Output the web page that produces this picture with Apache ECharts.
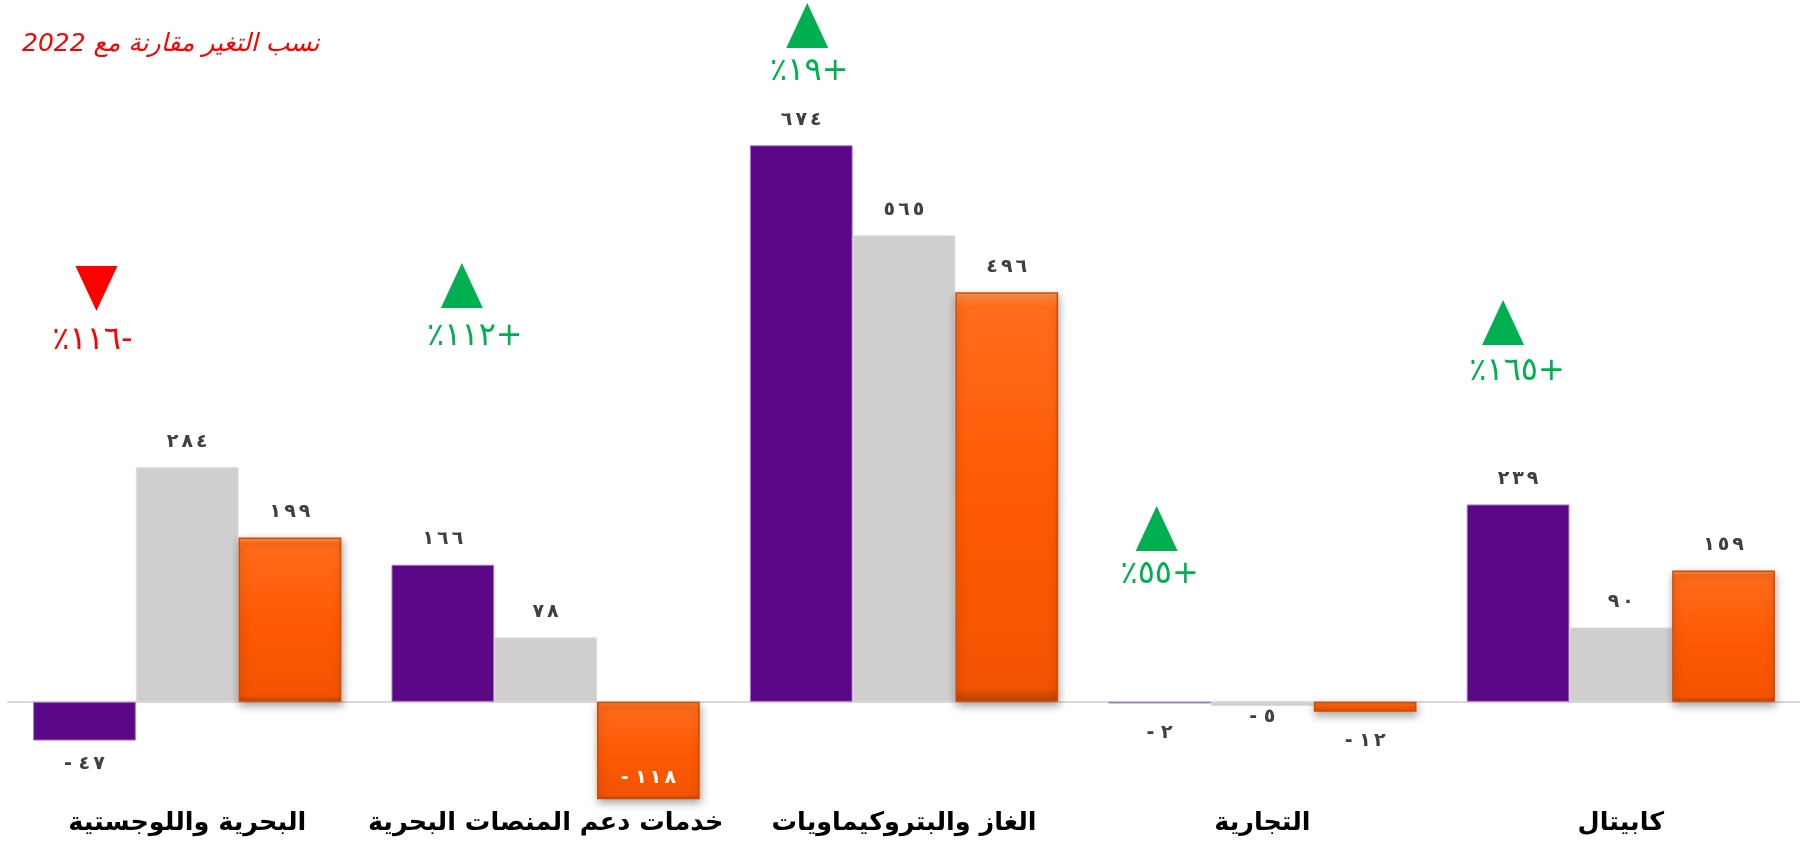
<!DOCTYPE html>
<html>
<head>
<meta charset="utf-8">
<script src="https://cdn.jsdelivr.net/npm/echarts@6/dist/echarts.min.js"></script>
<style>
html,body{margin:0;padding:0;background:#fff;}
#chart{width:1800px;height:842px;}
</style>
</head>
<body>
<div id="chart"></div>
<script>
// ---- data ----
const categories = ['البحرية واللوجستية', 'خدمات دعم المنصات البحرية', 'الغاز والبتروكيماويات', 'التجارية', 'كابيتال'];
const seriesNames = ['2023', '2022', '2021'];
const valuesA = [-47, 166, 674, -2, 239];   // purple
const valuesB = [284, 78, 565, -5, 90];     // gray
const valuesC = [199, -118, 496, -12, 159]; // orange
const changePct = [-116, 112, 19, 55, 165];
const titleText = '2022 نسب التغير مقارنة مع';

// ---- helpers ----
const AR = '٠١٢٣٤٥٦٧٨٩';
const toAr = n => String(n).replace(/\d/g, d => AR[d]);
// rich tokens are laid out left-to-right by ECharts, so visual order is explicit
const spaced = s => s.split('').map(ch => '{v|' + ch + '}').join('{g| }');
const fmtVal = v => v < 0 ? '{v|-}{v| }' + spaced(toAr(-v)) : spaced(toAr(v));
const fmtPct = p => '{p|٪}{p|' + toAr(Math.abs(p)) + '}{p|' + (p < 0 ? '-' : '+') + '}';

const FONT = '"DejaVu Sans", sans-serif';
const valRich = {
  v: { fontSize: 19, fontWeight: 'bold', color: '#404040', fontFamily: FONT },
  g: { fontSize: 19, width: 3 }
};
const valRichWhite = {
  v: { fontSize: 19, fontWeight: 'bold', color: '#FFFFFF', fontFamily: FONT },
  g: { fontSize: 19, width: 3 }
};
const labelBase = {
  show: true, position: 'top', distance: 16,
  formatter: p => fmtVal(p.value), rich: valRich
};
// negative label tweaks (layout only)
const negDist = { '0-0': 14, '0-3': 20, '1-3': 2, '2-3': 20 };

function buildData(vals, si) {
  return vals.map((v, i) => {
    if (v >= 0) return v;
    const key = si + '-' + i;
    if (Math.abs(v) > 80) {
      return { value: v, label: { position: 'insideBottom', distance: 12, rich: valRichWhite } };
    }
    return { value: v, label: { position: 'bottom', distance: negDist[key] != null ? negDist[key] : 14 } };
  });
}

const chart = echarts.init(document.getElementById('chart'), null, { renderer: 'canvas' });

const orangeFill = new echarts.graphic.LinearGradient(0, 0, 0, 1, [
  { offset: 0, color: '#FF9450' },
  { offset: 0.035, color: '#FF6C1A' },
  { offset: 0.5, color: '#FF5A05' },
  { offset: 0.965, color: '#F25300' },
  { offset: 1, color: '#B94100' }
]);

const option = {
  animation: false,
  backgroundColor: '#ffffff',
  grid: { left: 8, right: 0, top: 0, bottom: 37, containLabel: false, outerBoundsMode: 'none' },
  xAxis: {
    type: 'category',
    data: categories,
    axisLine: { onZero: true, lineStyle: { color: '#D9D9D9', width: 2 } },
    axisTick: { show: false },
    axisLabel: {
      interval: 0, margin: 18, fontSize: 25.5, fontWeight: 'bold', lineHeight: 30,
      verticalAlign: 'middle', color: '#000000', fontFamily: FONT
    },
    splitLine: { show: false }
  },
  yAxis: {
    type: 'value', min: -125, max: 850, show: false,
    splitLine: { show: false }
  },
  series: [
    {
      name: seriesNames[0], type: 'bar', barGap: '0%', barCategoryGap: '14%',
      data: buildData(valuesA, 0),
      itemStyle: { color: '#5B0787', borderColor: '#A57CC4', borderWidth: 1 },
      label: labelBase
    },
    {
      name: seriesNames[1], type: 'bar', barGap: '0%', barCategoryGap: '14%',
      data: buildData(valuesB, 1),
      itemStyle: { color: '#D0CECF', borderColor: '#DCDADB', borderWidth: 1 },
      label: labelBase
    },
    {
      name: seriesNames[2], type: 'bar', barGap: '0%', barCategoryGap: '14%',
      data: buildData(valuesC, 2),
      itemStyle: {
        color: orangeFill, borderColor: '#D04A00', borderWidth: 1.5,
        shadowColor: 'rgba(0,0,0,0.35)', shadowBlur: 8, shadowOffsetY: 4, shadowOffsetX: 1
      },
      label: labelBase
    }
  ]
};
chart.setOption(option);

// ---- change annotations anchored to the category axis ----
const triDx = [12, 19, 6, -3, -15];
const triTop = [266, 263, 3, 506, 300];
const txtDx = [8, 32, 8, 0, -1];
const txtY = [341, 337, 72, 575, 372];

const c0 = chart.convertToPixel({ xAxisIndex: 0 }, 0);
const c1 = chart.convertToPixel({ xAxisIndex: 0 }, 1);
const band = c1 - c0;
const barW = band * 0.86 / 3;

const graphics = [{
  type: 'text', left: 22, top: 32,
  style: { text: titleText, font: 'italic 25px ' + FONT, fill: '#FF0000' }
}];
changePct.forEach((p, i) => {
  const cx = chart.convertToPixel({ xAxisIndex: 0 }, i) - barW;
  const up = p >= 0;
  const col = up ? '#00B050' : '#FF0000';
  const tx = cx + triDx[i], ty = triTop[i];
  const pts = up
    ? [[tx, ty], [tx + 21, ty + 45], [tx - 21, ty + 45]]
    : [[tx - 21, ty], [tx + 21, ty], [tx, ty + 45]];
  graphics.push({ type: 'polygon', shape: { points: pts }, style: { fill: col } });
  graphics.push({
    type: 'text', x: cx + txtDx[i], y: txtY[i],
    style: {
      text: fmtPct(p), align: 'center', verticalAlign: 'middle',
      rich: { p: { font: '32px ' + FONT, fill: col } }
    }
  });
});
chart.setOption({ graphic: graphics });
</script>
</body>
</html>
